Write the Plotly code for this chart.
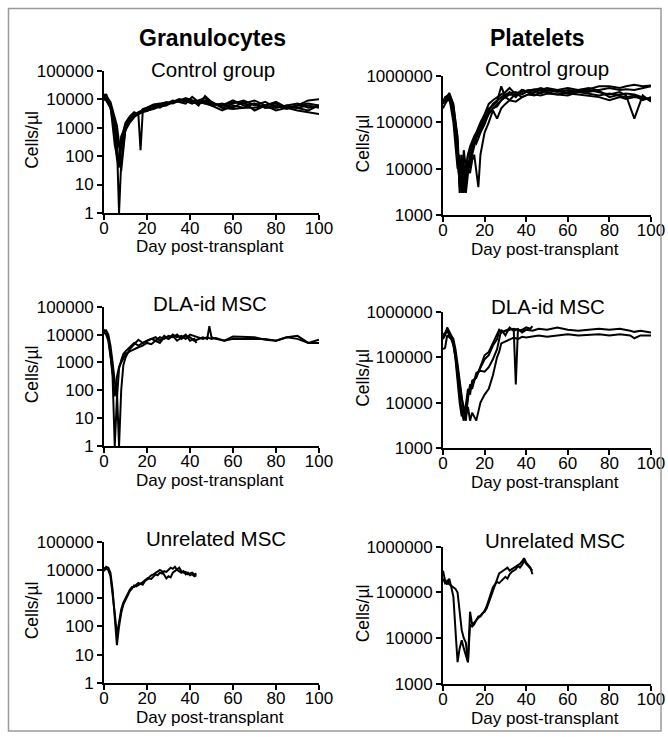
import plotly.graph_objects as go

W, H = 668, 737

# ---------------- Granulocytes, control group ----------------
G_CTRL_DAYS = [0, 1, 3, 5, 6, 7, 8, 10, 12, 14, 16, 17, 18, 20, 23, 26, 29, 32, 35, 38,
               41, 44, 47, 50, 55, 60, 65, 70, 75, 80, 85, 90, 95, 100]
G_CTRL_1 = [12000, 15000, 6000, 1200, 300, 1, 60, 1000, 1800, 2500, 3000, 3500, 4000, 4000, 5000, 6000, 7000, 8000, 9000, 10000,
            8000, 9000, 11000, 7000, 6000, 8000, 7000, 9000, 6000, 7000, 5000, 6000, 9000, 10000]
G_CTRL_2 = [12000, 10000, 5000, 800, 80, 40, 300, 1200, 2000, 3000, 2800, 160, 3500, 4500, 5500, 6500, 8000, 7000, 9000, 11000,
            9000, 6000, 13000, 8000, 5000, 7000, 9000, 6000, 8000, 5000, 6000, 7000, 5000, 6000]
G_CTRL_3 = [9000, 12000, 7000, 1000, 200, 60, 200, 800, 1500, 2200, 3500, 3800, 4200, 5000, 6000, 5000, 7000, 9000, 8000, 7000,
            12000, 8000, 7000, 6000, 4000, 6000, 5000, 7000, 5000, 5000, 6000, 5000, 4000, 6000]
G_CTRL_4 = [15000, 13000, 8000, 2000, 1200, 300, 30, 900, 1600, 2500, 3000, 3200, 3500, 3800, 5000, 6000, 6500, 7500, 9000, 8500,
            7000, 9000, 8000, 6000, 7000, 5000, 8000, 4000, 6000, 8000, 5000, 4000, 3500, 3000]
G_CTRL_5 = [10000, 11000, 6000, 250, 100, 50, 500, 1000, 2000, 2800, 3300, 3500, 3700, 4000, 4500, 5500, 6000, 8000, 10000, 9000,
            8000, 7000, 9000, 7000, 6000, 9000, 6000, 7000, 5000, 6000, 4500, 6000, 7000, 6000]
G_CTRL_6 = [14000, 9000, 5000, 1500, 600, 200, 400, 1500, 2500, 3500, 3000, 3500, 4500, 5000, 6500, 7000, 7000, 8000, 9000, 10000,
            9000, 8000, 7000, 8000, 5000, 4500, 5000, 5000, 6000, 4000, 5000, 5000, 6000, 5000]

# ---------------- Platelets, control group ----------------
P_CTRL_DAYS = [0, 1, 3, 5, 7, 8, 9, 10, 11, 12, 13, 14, 15, 16, 17, 18, 20, 22, 24, 26,
               28, 30, 32, 35, 38, 41, 44, 47, 50, 55, 60, 65, 70, 75, 80, 85, 88, 92, 96, 100]
P_CTRL_1 = [280000, 300000, 430000, 250000, 40000, 3000, 15000, 4000, 8000, 20000, 30000, 40000, 50000, 60000, 80000, 100000, 150000, 250000, 300000, 350000,
            400000, 450000, 550000, 400000, 500000, 450000, 500000, 550000, 500000, 450000, 500000, 480000, 450000, 500000, 550000, 500000, 520000, 500000, 550000, 600000]
P_CTRL_2 = [250000, 350000, 400000, 200000, 25000, 8000, 3000, 12000, 5000, 10000, 15000, 25000, 40000, 50000, 60000, 80000, 120000, 180000, 250000, 300000,
            350000, 400000, 420000, 450000, 400000, 480000, 520000, 500000, 550000, 500000, 420000, 480000, 500000, 450000, 400000, 450000, 380000, 120000, 380000, 280000]
P_CTRL_3 = [300000, 280000, 350000, 150000, 15000, 5000, 20000, 3000, 6000, 15000, 10000, 20000, 30000, 45000, 55000, 70000, 100000, 150000, 200000, 250000,
            300000, 350000, 300000, 420000, 350000, 400000, 450000, 500000, 450000, 400000, 450000, 500000, 550000, 480000, 350000, 400000, 420000, 400000, 350000, 300000]
P_CTRL_4 = [200000, 250000, 350000, 100000, 10000, 20000, 4000, 10000, 3000, 8000, 20000, 35000, 45000, 55000, 70000, 90000, 130000, 200000, 230000, 280000,
            600000, 350000, 400000, 380000, 450000, 500000, 480000, 420000, 480000, 500000, 550000, 500000, 520000, 600000, 600000, 550000, 600000, 650000, 600000, 620000]
P_CTRL_5 = [280000, 300000, 300000, 180000, 30000, 4000, 10000, 6000, 15000, 10000, 8000, 15000, 20000, 10000, 4000, 20000, 60000, 100000, 180000, 120000,
            200000, 250000, 300000, 280000, 350000, 400000, 380000, 450000, 520000, 480000, 420000, 400000, 380000, 350000, 300000, 350000, 320000, 350000, 330000, 320000]
P_CTRL_6 = [320000, 280000, 380000, 220000, 50000, 6000, 3000, 25000, 10000, 20000, 25000, 30000, 40000, 35000, 45000, 60000, 90000, 160000, 200000, 220000,
            300000, 380000, 450000, 350000, 500000, 450000, 400000, 380000, 420000, 400000, 380000, 450000, 420000, 380000, 420000, 380000, 350000, 380000, 300000, 350000]

# ---------------- Granulocytes, DLA-id MSC ----------------
G_DLA_DAYS_LONG = [0, 1, 2, 3, 4, 5, 6, 7, 8, 9, 10, 12, 14, 16, 18, 20, 22, 24, 26, 28, 30,
                   32, 34, 36, 38, 40, 42, 44, 46, 48, 49, 50, 52, 56, 60, 65, 70, 75, 80, 85, 90, 95, 100]
G_DLA_1 = [15000, 13000, 8000, 2000, 300, 1, 50, 600, 1200, 2000, 2500, 3500, 5000, 4000, 5000, 6000, 7000, 6000, 8000, 7000, 9000,
           8000, 10000, 7000, 9000, 8000, 6000, 7000, 8000, 7000, 20000, 8000, 7000, 6000, 7000, 7000, 7000, 7000, 6000, 8000, 7000, 5000, 6500]
G_DLA_2 = [12000, 14000, 10000, 4000, 1000, 200, 100, 1, 100, 800, 1500, 3000, 4500, 6500, 5000, 6000, 7000, 8000, 6000, 9000, 7000,
           10000, 8000, 9000, 7000, 10000, 9000, 8000, 7000, 8000, 7500, 7000, 7500, 6000, 8500, 8000, 8000, 6500, 6000, 8000, 9000, 5000, 5000]
G_DLA_DAYS_SHORT = [0, 1, 2, 3, 4, 5, 6, 7, 8, 9, 10, 12, 14, 16, 18, 20, 22, 24, 26, 28, 30, 32, 34, 36, 38, 40, 42, 43]
G_DLA_3 = [12000, 10000, 6000, 1500, 500, 60, 300, 700, 1000, 1500, 2000, 2500, 3000, 3500, 4000, 5000, 4500, 6000, 5000, 8000,
           7000, 9000, 6000, 8000, 10000, 6000, 7000, 5000]

# ---------------- Platelets, DLA-id MSC ----------------
P_DLA_DAYS_LONG = [0, 1, 2, 3, 4, 5, 6, 7, 8, 9, 10, 11, 12, 13, 14, 16, 18, 20, 22, 24, 26, 27, 28, 30, 32, 34, 36, 38, 40, 43,
                   46, 50, 55, 60, 65, 70, 75, 80, 85, 90, 92, 95, 100]
P_DLA_1 = [250000, 300000, 450000, 350000, 300000, 250000, 150000, 70000, 30000, 12000, 6000, 4000, 15000, 20000, 25000, 40000, 60000, 90000, 110000, 180000,
           250000, 380000, 350000, 380000, 400000, 420000, 400000, 380000, 400000, 380000, 420000, 400000, 450000, 400000, 380000, 400000, 420000, 400000, 420000, 380000, 360000, 380000, 350000]
P_DLA_2 = [150000, 160000, 300000, 280000, 250000, 200000, 120000, 60000, 25000, 12000, 8000, 5000, 8000, 4000, 6000, 4000, 10000, 15000, 20000, 40000,
           100000, 130000, 200000, 220000, 250000, 270000, 250000, 280000, 270000, 280000, 300000, 280000, 300000, 320000, 300000, 310000, 320000, 300000, 320000, 300000, 260000, 300000, 300000]
P_DLA_DAYS_3 = [0, 1, 2, 3, 4, 5, 6, 7, 8, 9, 10, 11, 12, 13, 14, 16, 18, 20, 22, 24, 26, 27, 28, 30, 32, 34, 35, 36, 38, 40, 42, 43]
P_DLA_3 = [300000, 350000, 400000, 300000, 250000, 180000, 100000, 40000, 15000, 6000, 4000, 10000, 20000, 15000, 30000, 35000, 60000, 110000, 130000, 200000,
           300000, 400000, 350000, 380000, 420000, 400000, 25000, 380000, 400000, 450000, 420000, 480000]
P_DLA_DAYS_4 = [0, 1, 2, 3, 4, 5, 6, 7, 8, 9, 10, 11, 12, 13, 14, 15, 16, 18, 20, 22, 24, 26, 28, 30, 32, 34, 36, 38, 40]
P_DLA_4 = [280000, 320000, 380000, 320000, 280000, 200000, 90000, 30000, 10000, 5000, 8000, 6000, 12000, 25000, 20000, 30000, 45000,
           50000, 48000, 60000, 90000, 150000, 400000, 300000, 450000, 380000, 420000, 350000, 400000]

# ---------------- Unrelated MSC ----------------
UNREL_DAYS = list(range(0, 44))
G_UNREL_1 = [9000, 13000, 12000, 8000, 2000, 200, 22, 100, 300, 600, 900, 1300, 1800, 2200, 2800, 2600, 3000, 3300, 3000, 4000,
             4500, 5000, 4800, 6000, 7000, 6500, 8000, 7500, 9000, 8500, 10000, 12000, 11000, 13000, 10000, 9000, 8000, 9000, 7000, 8000,
             6500, 7000, 6000, 6500]
G_UNREL_2 = [12000, 11000, 10000, 6000, 1500, 300, 50, 150, 400, 700, 1000, 1500, 2000, 2500, 2500, 3000, 3500, 3200, 3800, 4200,
             5000, 5500, 6500, 7000, 8000, 9000, 10000, 9000, 7000, 5000, 6000, 5500, 8000, 9000, 10000, 12000, 9000, 8000, 8500, 7000,
             7500, 8000, 7000, 7500]
P_UNREL_1 = [300000, 180000, 150000, 200000, 130000, 80000, 15000, 3000, 6000, 9000, 6000, 4000, 3000, 38000, 20000, 22000, 25000, 28000, 32000, 35000,
             38000, 45000, 60000, 80000, 110000, 150000, 200000, 260000, 280000, 300000, 320000, 350000, 300000, 320000, 350000, 380000, 400000, 420000, 480000, 560000,
             450000, 400000, 350000, 250000]
P_UNREL_2 = [200000, 160000, 180000, 150000, 140000, 130000, 120000, 100000, 40000, 15000, 10000, 8000, 3000, 20000, 18000, 20000, 25000, 30000, 30000, 35000,
             40000, 50000, 70000, 100000, 130000, 150000, 170000, 160000, 180000, 200000, 220000, 200000, 250000, 280000, 300000, 320000, 380000, 350000, 400000, 500000,
             420000, 380000, 330000, 300000]

X_TICKS = [0, 20, 40, 60, 80, 100]
G_TICKS = [1, 10, 100, 1000, 10000, 100000]
P_TICKS = [1000, 10000, 100000, 1000000]

COL_TITLES = ["Granulocytes", "Platelets"]
ROW_TITLES = ["Control group", "DLA-id MSC", "Unrelated MSC"]
X_TITLE = "Day post-transplant"
Y_TITLE = "Cells/\u00b5l"

FONT = "Liberation Sans, Arial, Helvetica, sans-serif"

def px(x):
    return x / W

def py(y):
    return 1 - y / H

# panel boxes in pixels: (left, right, top, bottom)
BOXES = [
    (104, 319, 70.7, 213),   # gran control
    (443, 651, 76, 215),     # plt control
    (104, 319, 306.7, 446),  # gran DLA
    (443, 651, 311.7, 448),  # plt DLA
    (104, 319, 541.7, 683),  # gran unrelated
    (443, 651, 546.7, 684),  # plt unrelated
]

PANEL_SERIES = [
    [(G_CTRL_DAYS, s) for s in [G_CTRL_1, G_CTRL_2, G_CTRL_3, G_CTRL_4, G_CTRL_5, G_CTRL_6]],
    [(P_CTRL_DAYS, s) for s in [P_CTRL_1, P_CTRL_2, P_CTRL_3, P_CTRL_4, P_CTRL_5, P_CTRL_6]],
    [(G_DLA_DAYS_LONG, G_DLA_1), (G_DLA_DAYS_LONG, G_DLA_2), (G_DLA_DAYS_SHORT, G_DLA_3)],
    [(P_DLA_DAYS_LONG, P_DLA_1), (P_DLA_DAYS_LONG, P_DLA_2), (P_DLA_DAYS_3, P_DLA_3), (P_DLA_DAYS_4, P_DLA_4)],
    [(UNREL_DAYS, G_UNREL_1), (UNREL_DAYS, G_UNREL_2)],
    [(UNREL_DAYS, P_UNREL_1), (UNREL_DAYS, P_UNREL_2)],
]

fig = go.Figure()
layout = dict(
    width=W, height=H,
    margin=dict(l=0, r=0, t=0, b=0),
    paper_bgcolor="white", plot_bgcolor="white",
    showlegend=False,
    font=dict(family=FONT, color="black"),
    template="none",
)

annotations = []
for i, (box, series) in enumerate(zip(BOXES, PANEL_SERIES)):
    n = i + 1
    xa = "x" if n == 1 else f"x{n}"
    ya = "y" if n == 1 else f"y{n}"
    for days, vals in series:
        fig.add_trace(go.Scatter(x=days, y=vals, mode="lines", xaxis=xa, yaxis=ya,
                                 line=dict(color="black", width=2), hoverinfo="skip"))
    l, r, t, b = box
    is_gran = (i % 2 == 0)
    yt = G_TICKS if is_gran else P_TICKS
    common = dict(showline=True, linecolor="black", linewidth=2, ticks="outside",
                  ticklen=5, tickwidth=2, tickcolor="black", showgrid=False, zeroline=False,
                  tickfont=dict(size=17, color="black", family=FONT), fixedrange=True,
                  automargin=False)
    layout["xaxis" if n == 1 else f"xaxis{n}"] = dict(
        domain=[px(l), px(r)], anchor=ya, range=[0, 100], tickvals=X_TICKS,
        ticktext=[str(v) for v in X_TICKS], ticklabelstandoff=-6, **common)
    layout["yaxis" if n == 1 else f"yaxis{n}"] = dict(
        domain=[py(b), py(t)], anchor=xa, type="log",
        range=[0, 5] if is_gran else [3, 6], tickvals=yt,
        ticktext=[str(v) for v in yt], ticklabelstandoff=0, **common)
    cx = (l + r) / 2
    # x axis title
    annotations.append(dict(x=px(cx - 2), y=py(b + 34), xref="paper", yref="paper",
                            text=X_TITLE, showarrow=False, xanchor="center", yanchor="middle",
                            font=dict(size=17, family=FONT, color="black")))
    # y axis title
    annotations.append(dict(x=px(l - 72 if is_gran else l - 80), y=py((t + b) / 2 - 2), xref="paper", yref="paper",
                            text=Y_TITLE, showarrow=False, textangle=-90, xanchor="center", yanchor="middle",
                            font=dict(size=17.5, family=FONT, color="black")))

# row titles (subtitles)
SUB_POS = [(212.7, 69), (547, 68), (210.3, 303), (547.7, 306.7), (215.7, 538), (555.3, 540)]
for i, (sx, sy) in enumerate(SUB_POS):
    annotations.append(dict(x=px(sx), y=py(sy), xref="paper", yref="paper",
                            text=ROW_TITLES[i // 2], showarrow=False, xanchor="center", yanchor="middle",
                            font=dict(size=20.5, family=FONT, color="black")))

# column titles
for (tx, ty), txt in zip([(212, 38), (537, 38)], COL_TITLES):
    annotations.append(dict(x=px(tx), y=py(ty), xref="paper", yref="paper",
                            text=f"<b>{txt}</b>", showarrow=False, xanchor="center", yanchor="middle",
                            font=dict(size=23, family=FONT, color="black")))

layout["annotations"] = annotations
layout["shapes"] = [dict(type="rect", xref="paper", yref="paper",
                         x0=px(8.5), x1=px(661), y0=py(731), y1=py(8.5),
                         line=dict(color="#9a9a9a", width=1.5))]

fig.update_layout(**layout)
fig.write_html("out.html",
               config={"displayModeBar": False, "staticPlot": True},
               post_script="document.body.style.margin='0px';document.body.style.padding='0px';"
                           "document.body.style.overflow='hidden';")
